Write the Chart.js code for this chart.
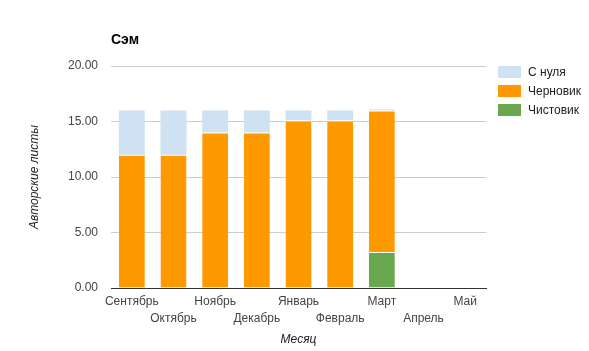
<!DOCTYPE html>
<html>
<head>
<meta charset="utf-8">
<script src="https://cdn.jsdelivr.net/npm/chart.js@4/dist/chart.umd.min.js"></script>
<style>
  html, body { margin: 0; padding: 0; background: #fff; }
  #wrap { position: relative; width: 589px; height: 351px; }
  #legend { position: absolute; left: 498px; top: 66px; font-family: 'Liberation Sans', Arial, sans-serif; font-size: 12px; color: #222; }
  .item { display: flex; align-items: center; height: 12px; margin-bottom: 7px; white-space: nowrap; }
  .box { width: 23px; height: 12px; margin-right: 7px; }
</style>
</head>
<body>
<div id="wrap">
  <canvas id="c" width="589" height="351"></canvas>
  <div id="legend"></div>
</div>
<script>
const chartTitle = 'Сэм';
const xTitle = 'Месяц';
const yTitle = 'Авторские листы';
const months = ['Сентябрь', 'Октябрь', 'Ноябрь', 'Декабрь', 'Январь', 'Февраль', 'Март', 'Апрель', 'Май'];
const seriesNames = ['Чистовик', 'Черновик', 'С нуля'];
const seriesColors = ['#6aa84f', '#ff9900', '#cfe2f3'];
const chistovik = [0, 0, 0, 0, 0, 0, 3.25, 0, 0];
const chernovik = [12, 12, 14, 14, 15.1, 15.1, 12.75, 0, 0];
const sNulya = [4, 4, 2, 2, 0.9, 0.9, 0.1, 0, 0];
const yTicks = [0, 5, 10, 15, 20];

const FONT = "'Liberation Sans', Arial, sans-serif";
const seriesData = [chistovik, chernovik, sNulya];

const datasets = seriesNames.map((name, i) => ({
  label: name,
  data: seriesData[i],
  backgroundColor: seriesColors[i],
  borderColor: '#ffffff',
  borderWidth: i < 2 ? { top: 1, right: 0, bottom: 0, left: 0 } : 0,
  borderSkipped: 'bottom',
  categoryPercentage: 1.0,
  barPercentage: 0.624
}));

const chart = new Chart(document.getElementById('c'), {
  type: 'bar',
  data: { labels: months, datasets },
  options: {
    responsive: false,
    animation: false,
    devicePixelRatio: 1,
    layout: { padding: { left: 0, right: 103, top: 0, bottom: 0 } },
    plugins: {
      legend: { display: false },
      tooltip: { enabled: false },
      title: {
        display: true,
        text: chartTitle,
        align: 'start',
        fullSize: false,
        color: '#000',
        font: { family: FONT, size: 14, weight: 'bold', lineHeight: 1.2 },
        padding: { top: 31.6, bottom: 17.6 }
      }
    },
    scales: {
      x: {
        stacked: true,
        grid: { display: false, drawTicks: false },
        border: { display: true, color: '#333', width: 1 },
        ticks: {
          autoSkip: false,
          maxRotation: 0,
          minRotation: 0,
          padding: 5,
          color: '#444',
          font: { family: FONT, size: 12, lineHeight: 1.4 },
          callback: (v, i) => (i % 2 ? ['', months[i]] : months[i])
        },
        title: {
          display: true,
          text: xTitle,
          color: '#222',
          font: { family: FONT, size: 12, style: 'italic', lineHeight: 1.2 },
          padding: { top: 0, bottom: 4 }
        },
        afterFit: s => { s.height = 63; }
      },
      y: {
        stacked: true,
        min: 0,
        max: 20,
        afterBuildTicks: s => { s.ticks = yTicks.map(v => ({ value: v })); },
        grid: { color: '#cccccc', drawTicks: false, lineWidth: 1 },
        border: { display: false },
        ticks: {
          padding: 13,
          color: '#444',
          font: { family: FONT, size: 12 },
          callback: v => Number(v).toFixed(2)
        },
        title: {
          display: true,
          text: yTitle,
          color: '#222',
          font: { family: FONT, size: 12, style: 'italic', lineHeight: 1.2 },
          padding: { top: 27.8, bottom: 0 }
        },
        afterFit: s => { s.width = 111; }
      }
    }
  }
});

// HTML legend built from the chart's own datasets (top of stack first)
const legendEl = document.getElementById('legend');
chart.data.datasets.slice().reverse().forEach(ds => {
  const item = document.createElement('div');
  item.className = 'item';
  const box = document.createElement('span');
  box.className = 'box';
  box.style.background = ds.backgroundColor;
  const txt = document.createElement('span');
  txt.textContent = ds.label;
  item.appendChild(box);
  item.appendChild(txt);
  legendEl.appendChild(item);
});
</script>
</body>
</html>
